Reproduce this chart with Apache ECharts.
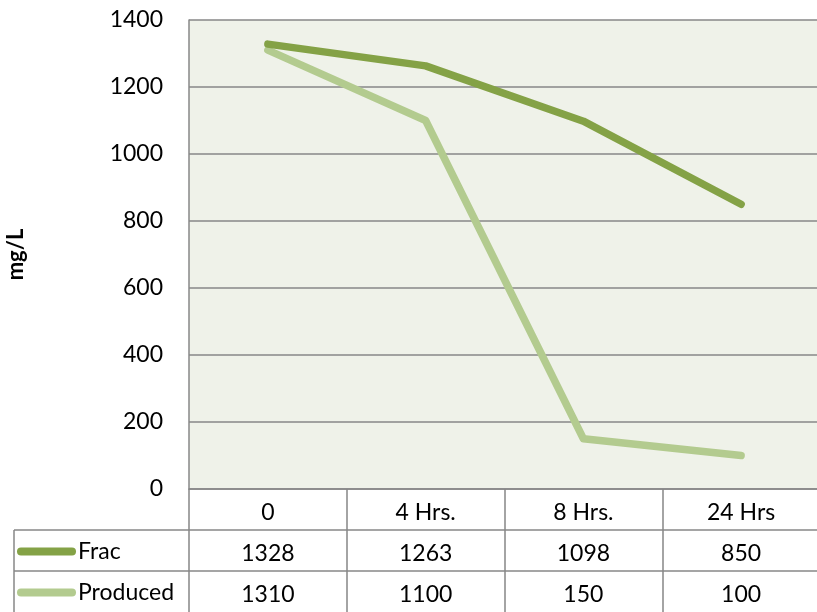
<!DOCTYPE html>
<html>
<head>
<meta charset="utf-8">
<script src="https://cdn.jsdelivr.net/npm/echarts@6/dist/echarts.min.js"></script>
<style>html,body{margin:0;padding:0;background:#fff}#c{width:817px;height:612px}</style>
</head>
<body>
<div id="c"></div>
<script>
const categories = ['0', '4 Hrs.', '8 Hrs.', '24 Hrs'];
const fracValues = [1328, 1263, 1098, 850];
const producedValues = [1310, 1100, 150, 100];
const seriesNames = ['Frac', 'Produced'];
const yTicks = [0, 200, 400, 600, 800, 1000, 1200, 1400];

const FONT = 'Lato';
const GRID_LEFT = 189, GRID_TOP = 20, GRID_BOTTOM = 123, ROW_H = 41;
const W = 817, H = 612;
const axisY = H - GRID_BOTTOM;
const lineColor = '#878787';
const darkGreen = '#84a246', lightGreen = '#b3cb8f';
const seriesColors = [darkGreen, lightGreen];

const rowGraphics = [];
seriesNames.forEach((name, i) => {
  const cy = axisY + ROW_H * (i + 1) + ROW_H / 2 + 1;
  rowGraphics.push({ type: 'rect', shape: { x: 17, y: cy - 4, width: 59, height: 8, r: 4 }, style: { fill: seriesColors[i] }, silent: true });
  rowGraphics.push({ type: 'text', x: 78, y: cy, style: { text: name, font: '23px ' + FONT, fill: '#000', verticalAlign: 'middle', align: 'left' }, silent: true });
});

const chart = echarts.init(document.getElementById('c'));
chart.setOption({
  backgroundColor: '#ffffff',
  animation: false,
  grid: {
    left: GRID_LEFT, top: GRID_TOP, right: -3, bottom: GRID_BOTTOM,
    show: true, backgroundColor: '#eff2e9', borderWidth: 0,
    containLabel: false, outerBoundsMode: 'none'
  },
  xAxis: {
    type: 'category', data: categories, boundaryGap: true,
    axisLine: { show: true, lineStyle: { color: lineColor, width: 1.5 } },
    axisTick: { show: true, length: GRID_BOTTOM, alignWithLabel: false, lineStyle: { color: lineColor, width: 1.5 } },
    axisLabel: {
      margin: 3, interval: 0, fontFamily: FONT, fontSize: 23, color: '#000', lineHeight: ROW_H,
      formatter: (v, i) => v + '\n' + fracValues[i] + '\n' + producedValues[i]
    }
  },
  yAxis: {
    type: 'value', min: yTicks[0], max: yTicks[yTicks.length - 1], interval: yTicks[1] - yTicks[0],
    name: 'mg/L', nameLocation: 'middle', nameRotate: 90, nameGap: 162,
    nameTextStyle: { fontFamily: FONT, fontSize: 22, fontWeight: 'bold', color: '#000' },
    axisLine: { show: true, lineStyle: { color: lineColor, width: 1.5 } },
    axisTick: { show: false },
    axisLabel: { margin: 26, fontFamily: FONT, fontSize: 23, color: '#000', formatter: v => String(v) },
    splitLine: { show: true, lineStyle: { color: lineColor, width: 1.5 } }
  },
  series: [
    {
      name: seriesNames[1], type: 'line', data: producedValues, symbol: 'none',
      color: lightGreen,
      lineStyle: { width: 7.5, color: lightGreen, cap: 'round', join: 'round' }
    },
    {
      name: seriesNames[0], type: 'line', data: fracValues, symbol: 'none',
      color: darkGreen,
      lineStyle: { width: 7.5, color: darkGreen, cap: 'round', join: 'round' }
    }
  ],
  graphic: [
    { type: 'line', shape: { x1: 14, y1: axisY + ROW_H, x2: W, y2: axisY + ROW_H }, style: { stroke: lineColor, lineWidth: 1.5 }, silent: true },
    { type: 'line', shape: { x1: 14, y1: axisY + 2 * ROW_H, x2: W, y2: axisY + 2 * ROW_H }, style: { stroke: lineColor, lineWidth: 1.5 }, silent: true },
    { type: 'line', shape: { x1: 14, y1: axisY + ROW_H, x2: 14, y2: H }, style: { stroke: lineColor, lineWidth: 1.5 }, silent: true }
  ].concat(rowGraphics)
});
</script>
</body>
</html>
